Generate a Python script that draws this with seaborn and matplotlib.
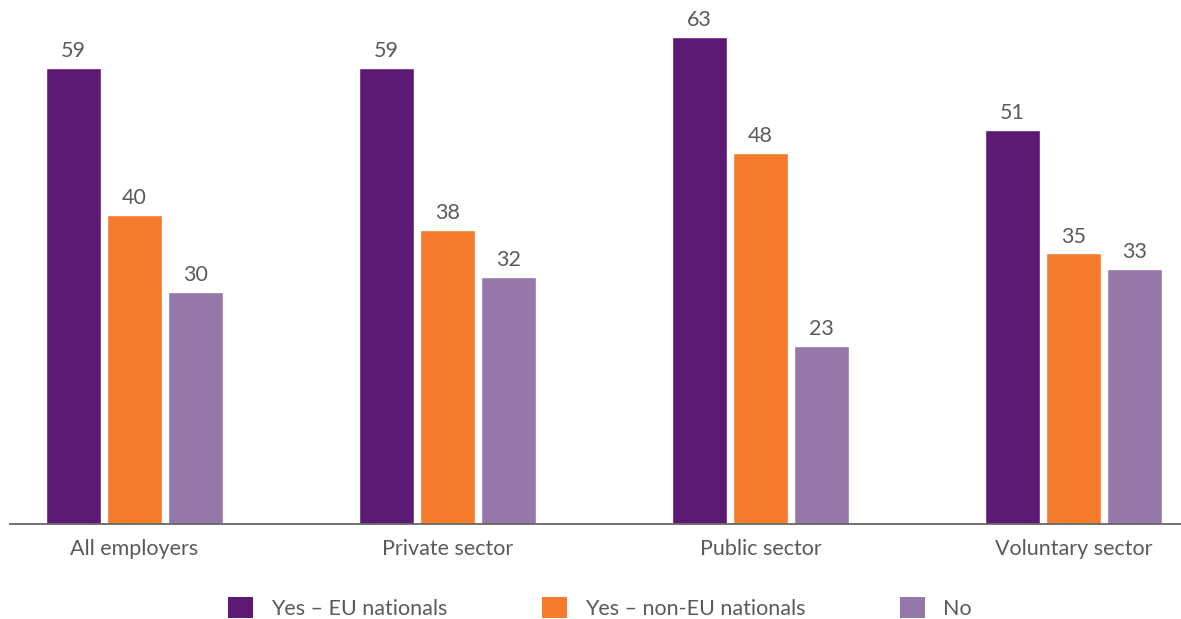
import matplotlib
matplotlib.use("Agg")
import matplotlib.pyplot as plt
import seaborn as sns
import pandas as pd
from matplotlib.patches import Patch

categories = ["All employers", "Private sector", "Public sector", "Voluntary sector"]
series_names = ["Yes – EU nationals", "Yes – non-EU nationals", "No"]
eu_values = [59, 59, 63, 51]
non_eu_values = [40, 38, 48, 35]
no_values = [30, 32, 23, 33]
colors = ["#5C1A74", "#F47B2C", "#9577A9"]

rows = []
for name, vals in zip(series_names, [eu_values, non_eu_values, no_values]):
    for c, v in zip(categories, vals):
        rows.append({"category": c, "series": name, "value": v})
df = pd.DataFrame(rows)

sns.set_theme(style="white")
plt.rcParams["font.family"] = ["Lato", "DejaVu Sans"]
text_color = "#5a5a5a"
fs = 15.5

fig = plt.figure(figsize=(11.81, 6.19), dpi=100)
ax = fig.add_axes([10/1181, (619-524)/619, 1 - 10/1181, 524/619])

sns.barplot(data=df, x="category", y="value", hue="series", order=categories,
            hue_order=series_names, palette=colors, width=0.585, gap=0.1,
            saturation=1, ax=ax, legend=False)

for cont in ax.containers:
    ax.bar_label(cont, fmt="%d", padding=5, fontsize=fs, color=text_color)

ax.set_xlim(-0.398, 3.343)
ax.set_ylim(0, 67.8)
ax.set_xlabel("")
ax.set_ylabel("")
ax.set_yticks([])
ax.tick_params(axis="x", length=0, pad=11, labelsize=fs, labelcolor=text_color)
for s in ["top", "right", "left"]:
    ax.spines[s].set_visible(False)
ax.spines["bottom"].set_color("#666666")
ax.spines["bottom"].set_linewidth(1.3)

handles = [Patch(facecolor=c, edgecolor="none") for c in colors]
fig.legend(handles, series_names, loc="center", bbox_to_anchor=(600/1181, 1 - 608/619),
           ncol=3, frameon=False, fontsize=fs, handlelength=1.16, handleheight=1.16,
           handletextpad=0.84, columnspacing=4.4, labelcolor=text_color)

fig.savefig("out.png", dpi=100)
